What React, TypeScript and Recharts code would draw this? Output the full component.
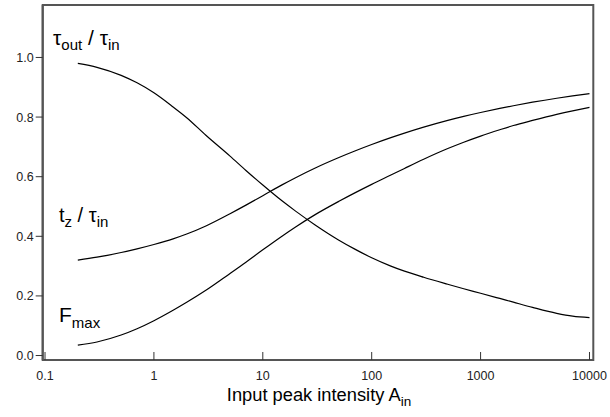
import React from 'react';
import { LineChart, Line, XAxis, YAxis, ReferenceArea } from 'recharts';

const intensity = [0.2, 0.3, 0.5, 0.7, 1, 1.5, 2, 3, 5, 7, 10, 15, 20, 30, 50, 70, 100, 150, 200, 300, 500, 700, 1000, 1500, 2000, 3000, 5000, 7000, 10000];
const tauOut = [0.98, 0.967, 0.94, 0.915, 0.8815, 0.834, 0.798, 0.739, 0.669, 0.621, 0.572, 0.519, 0.4845, 0.439, 0.387, 0.357, 0.328, 0.3, 0.283, 0.2625, 0.239, 0.224, 0.209, 0.1915, 0.179, 0.1615, 0.1415, 0.132, 0.127];
const tzRatio = [0.32, 0.33, 0.3456, 0.358, 0.3726, 0.3915, 0.4076, 0.4347, 0.4758, 0.5046, 0.5362, 0.5725, 0.5967, 0.6283, 0.6642, 0.6861, 0.7079, 0.7309, 0.7462, 0.7662, 0.7889, 0.8023, 0.8153, 0.829, 0.8381, 0.8499, 0.8632, 0.871, 0.8784];
const fMax = [0.035, 0.0455, 0.0688, 0.0899, 0.1169, 0.1519, 0.1786, 0.2189, 0.2754, 0.3132, 0.3547, 0.4005, 0.4314, 0.4719, 0.5174, 0.5457, 0.5743, 0.6054, 0.6277, 0.6586, 0.6945, 0.7157, 0.7363, 0.7575, 0.7717, 0.7887, 0.8089, 0.8209, 0.8327];

const xTicks = [0.1, 1, 10, 100, 1000, 10000];
const yTicks = [0, 0.2, 0.4, 0.6, 0.8, 1.0];
const xDomain = [0.0952, 10840];
const yDomain = [-0.015, 1.176];

const data = intensity.map((x, i) => ({ x, tauOut: tauOut[i], tz: tzRatio[i], fMax: fMax[i] }));

const FONT = '"Liberation Sans", Arial, Helvetica, sans-serif';

const XTick = (props: any) => {
  const { x, y, payload } = props;
  return (
    <g>
      <line x1={x} x2={x} y1={y} y2={y - 8} stroke="#333" strokeWidth={1} />
      <text x={x} y={y + 20} textAnchor="middle" fontSize={12.5} fill="#222" fontFamily={FONT}>
        {String(payload.value)}
      </text>
    </g>
  );
};

export default function App() {
  return (
    <div style={{ position: 'absolute', left: 0, top: 0, width: 610, height: 417, background: '#fff', fontFamily: FONT }}>
      <LineChart width={610} height={417} data={data} margin={{ top: 5, right: 16.7, bottom: 0, left: 0 }}>
        <XAxis
          dataKey="x"
          type="number"
          scale="log"
          domain={xDomain}
          allowDataOverflow
          ticks={xTicks}
          interval={0}
          height={57}
          tickSize={0}
          tickMargin={0}
          tickLine={false}
          axisLine={{ stroke: '#555', strokeWidth: 2 }}
          tick={<XTick />}
        />
        <YAxis
          type="number"
          domain={yDomain}
          allowDataOverflow
          ticks={yTicks}
          interval={0}
          width={42.7}
          tickSize={7}
          tickMargin={2}
          tickLine={{ stroke: '#333' }}
          axisLine={{ stroke: '#555', strokeWidth: 2 }}
          tick={{ fontSize: 12.5, fill: '#222', fontFamily: FONT }}
          tickFormatter={(v: number) => v.toFixed(1)}
        />
        <ReferenceArea x1={xDomain[0]} x2={xDomain[1]} y1={yDomain[0]} y2={yDomain[1]} fill="none" stroke="#555" strokeWidth={2} ifOverflow="visible" />
        <Line dataKey="tauOut" type="monotone" stroke="#000" strokeWidth={1.2} dot={false} isAnimationActive={false} />
        <Line dataKey="tz" type="monotone" stroke="#000" strokeWidth={1.2} dot={false} isAnimationActive={false} />
        <Line dataKey="fMax" type="monotone" stroke="#000" strokeWidth={1.2} dot={false} isAnimationActive={false} />
      </LineChart>
      <svg width={610} height={417} style={{ position: 'absolute', left: 0, top: 0, pointerEvents: 'none' }} fontFamily={FONT} fill="#000">
        <text x={53} y={45} fontSize={21}>
          τ<tspan fontSize={15} dy={5}>out</tspan>
          <tspan dy={-5}> / τ</tspan>
          <tspan fontSize={15} dy={5}>in</tspan>
        </text>
        <text x={59} y={222} fontSize={20}>
          t<tspan fontSize={15} dy={5}>z</tspan>
          <tspan dy={-5}> / τ</tspan>
          <tspan fontSize={15} dy={5}>in</tspan>
        </text>
        <text x={59} y={322} fontSize={21}>
          F<tspan fontSize={15} dy={6}>max</tspan>
        </text>
        <text x={319} y={401} fontSize={18.3} textAnchor="middle">
          Input peak intensity A<tspan fontSize={13.5} dy={5}>in</tspan>
        </text>
      </svg>
    </div>
  );
}
